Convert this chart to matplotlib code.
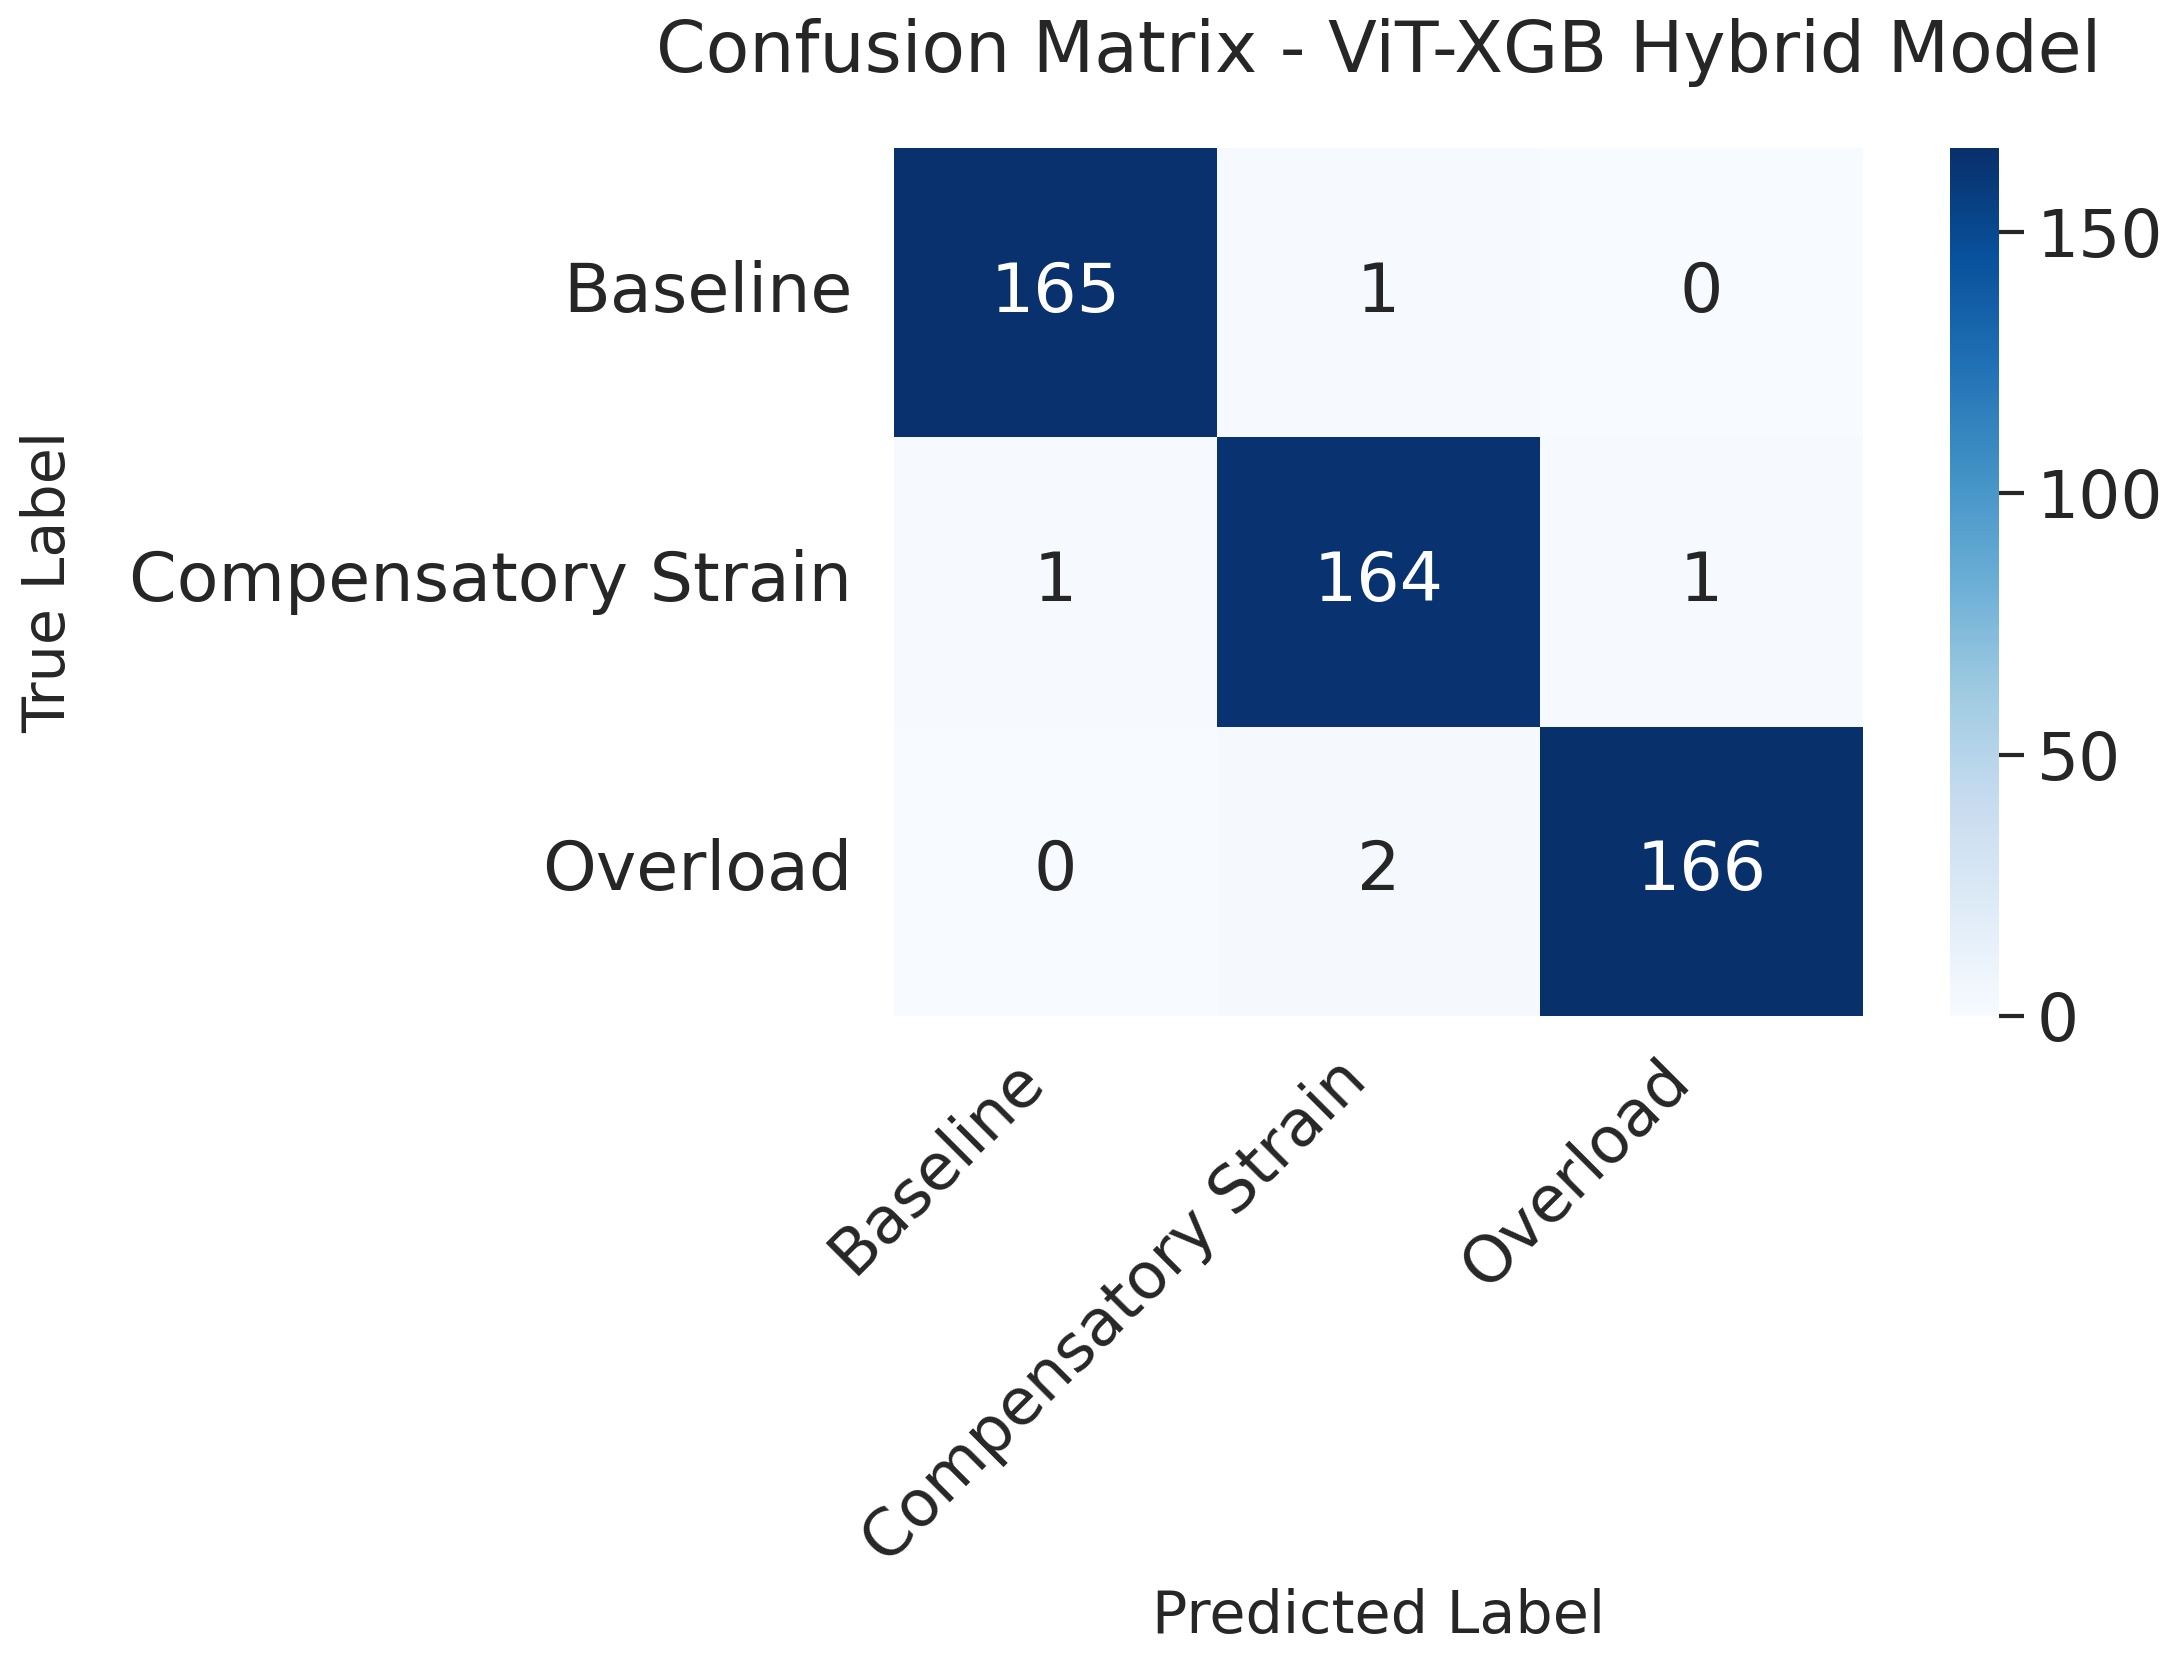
import numpy as np
import matplotlib
matplotlib.use("Agg")
import matplotlib.pyplot as plt
import seaborn as sns

# confusion matrix values
class_names = ["Baseline", "Compensatory Strain", "Overload"]
row_baseline = [165, 1, 0]
row_compensatory = [1, 164, 1]
row_overload = [0, 2, 166]

cm = np.array([row_baseline, row_compensatory, row_overload])

sns.set_theme(style="white")
plt.rcParams["font.family"] = ["DejaVu Sans"]
text_color = "#262626"
fs = 18
fs_label = 15.5

fig = plt.figure(figsize=(2184 / 273, 1664 / 273), dpi=273)
W, H = 2184, 1664
ax = fig.add_axes([894 / W, 1 - 1016 / H, 969 / W, 868 / H])
cax = fig.add_axes([1950 / W, 1 - 1016 / H, 49 / W, 868 / H])

sns.heatmap(cm, annot=True, fmt="d", cmap="Blues", ax=ax, cbar_ax=cax,
            xticklabels=class_names, yticklabels=class_names,
            annot_kws={"fontsize": fs})

ax.set_title("Confusion Matrix - ViT-XGB Hybrid Model", fontsize=18.8,
             color=text_color, pad=20)
ax.set_xlabel("Predicted Label", fontsize=fs_label, color=text_color)
ax.set_ylabel("True Label", fontsize=fs_label, color=text_color)
ax.xaxis.set_label_coords(0.5, -0.711)
ax.xaxis.label.set_verticalalignment("baseline")
ax.yaxis.set_label_coords(-0.872, 0.5)
ax.yaxis.label.set_verticalalignment("center")

ax.tick_params(axis="both", length=0, labelsize=fs, colors=text_color)
ax.tick_params(axis="x", pad=8.5, labelsize=17)
ax.tick_params(axis="y", pad=11)
plt.setp(ax.get_xticklabels(), rotation=45, ha="right")
plt.setp(ax.get_yticklabels(), rotation=0)

cax.tick_params(labelsize=17.5, colors=text_color, length=6.5, width=1.1, pad=3.5)

fig.savefig("out.png", dpi=273)
